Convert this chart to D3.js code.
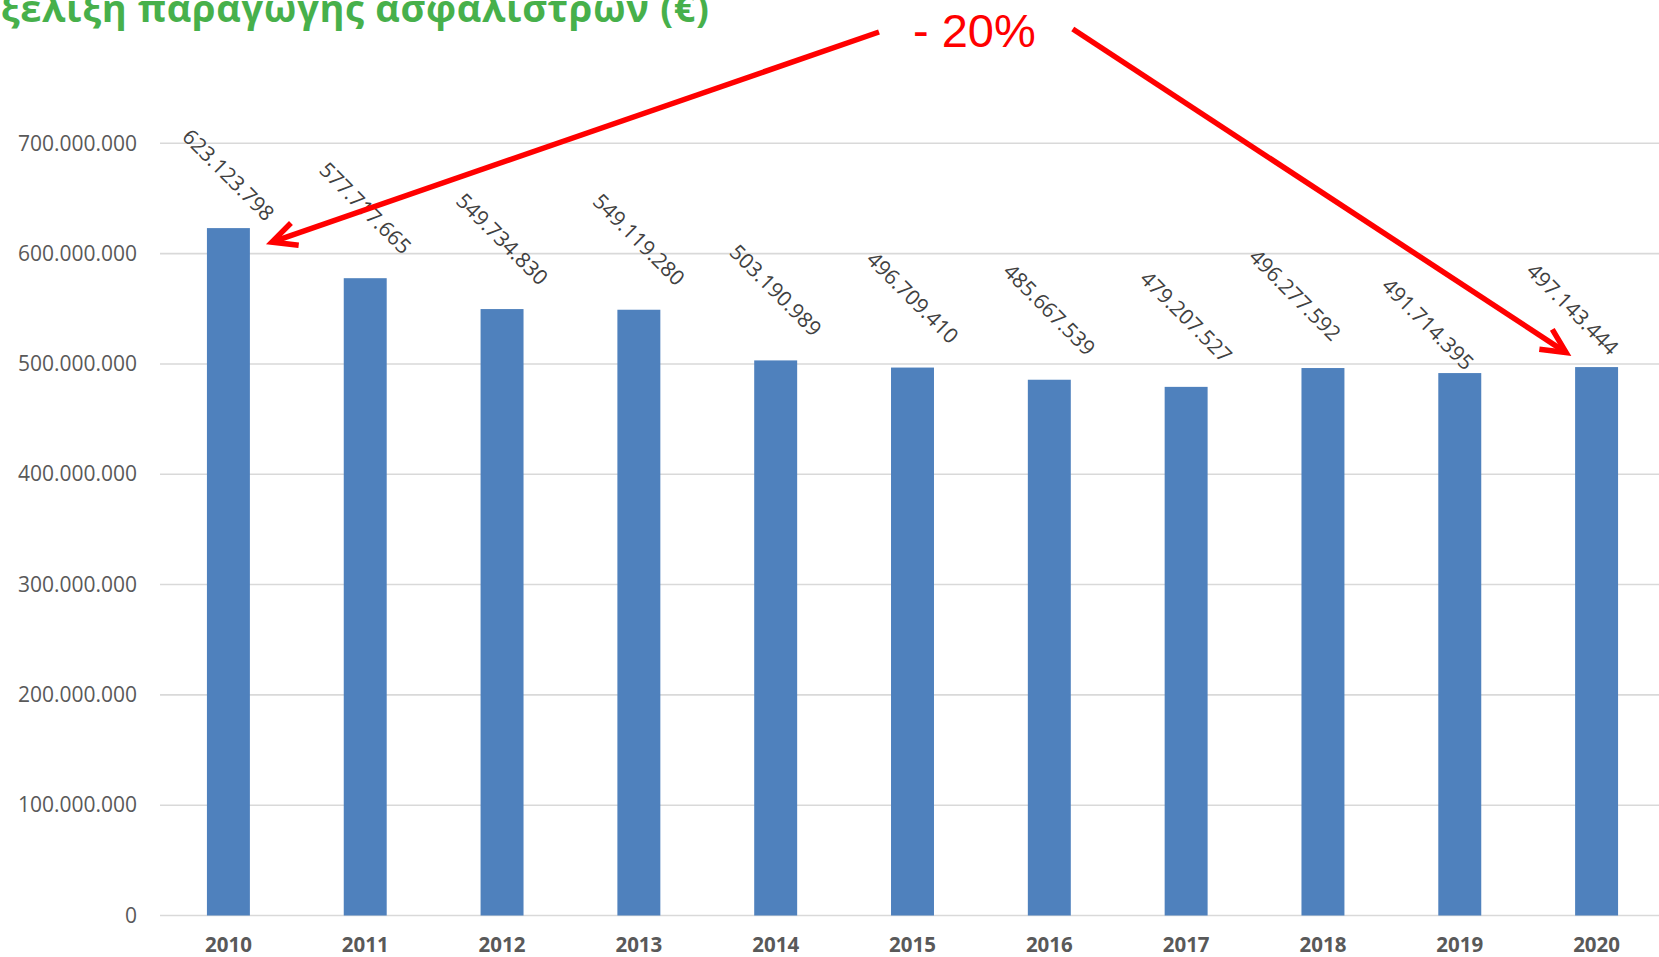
<!DOCTYPE html>
<html>
	<head>
		<meta charset="utf-8">
		<title>Εξελιξη παραγωγης ασφαλιστρων</title>
		<script src="https://d3js.org/d3.v7.min.js"></script>
		<style>
			body { margin: 0; background: #fff; }
			svg { display: block; }
			.tick-label { font-family: "Open Sans", sans-serif; fill: #595959; }
		</style>
	</head>
	<body>
		<div id="chart"></div>
		<script type="text/javascript">
		// Data
		var years = ["2010", "2011", "2012", "2013", "2014", "2015", "2016", "2017", "2018", "2019", "2020"];
		var premiums = [623123798, 577717665, 549734830, 549119280, 503190989, 496709410, 485667539, 479207527, 496277592, 491714395, 497143444];
		var yTicks = [0, 100000000, 200000000, 300000000, 400000000, 500000000, 600000000, 700000000];
		var titleHidden = "Ε";
		var titleVisible = "ξελιξη παραγωγης ασφαλιστρων (€)";
		var changeText = "- 20%";

		// Sizes
		const width = 1659, height = 957;
		const plotLeft = 160, plotRight = 1665;
		const plotTop = 143.3, plotBottom = 915.5;

		// hand-moved value labels (pixels), as on the original slide
		var labelNudge = {"2018": [-28, -3], "2019": [-32, 21], "2020": [-24, 12]};

		var fmt = d3.formatLocale({decimal: ",", thousands: ".", grouping: [3], currency: ["", "€"]}).format(",d");

		var svg = d3.select("#chart").append("svg")
			.attr("width", width)
			.attr("height", height);

		var x = d3.scaleBand()
			.domain(years)
			.range([plotLeft, plotRight])
			.paddingInner(0.686)
			.paddingOuter(0.343);

		var y = d3.scaleLinear()
			.domain([0, 700000000])
			.range([plotBottom, plotTop]);

		// Gridlines
		svg.append("g")
			.selectAll("line")
			.data(yTicks)
			.join("line")
				.attr("x1", plotLeft)
				.attr("x2", width)
				.attr("y1", d => y(d))
				.attr("y2", d => y(d))
				.attr("stroke", "#d9d9d9")
				.attr("stroke-width", 1.6);

		// Y axis (labels only)
		var yAxis = svg.append("g")
			.attr("transform", "translate(" + plotLeft + ",0)")
			.call(d3.axisLeft(y).tickValues(yTicks).tickFormat(fmt).tickSize(0).tickPadding(23));
		yAxis.select(".domain").remove();
		yAxis.selectAll("text")
			.attr("class", "tick-label")
			.style("font-size", "21px");

		// X axis (labels only)
		var xAxis = svg.append("g")
			.attr("transform", "translate(0," + plotBottom + ")")
			.call(d3.axisBottom(x).tickSize(0).tickPadding(22));
		xAxis.select(".domain").remove();
		xAxis.selectAll("text")
			.attr("class", "tick-label")
			.style("font-size", "20.5px")
			.style("font-weight", "bold");

		// Bars
		svg.append("g")
			.selectAll("rect")
			.data(premiums)
			.join("rect")
				.attr("x", (d, i) => x(years[i]))
				.attr("y", d => y(d))
				.attr("width", x.bandwidth())
				.attr("height", d => y(0) - y(d))
				.attr("fill", "#4f81bd");

		// Rotated value labels
		const labelMinY = 175;
		svg.append("g")
			.selectAll("text")
			.data(premiums)
			.join("text")
				.attr("transform", function(d, i) {
					var nudge = labelNudge[years[i]] || [0, 0];
					var cx = x(years[i]) + x.bandwidth() / 2 + nudge[0];
					var cy = Math.max(y(d) - 70, labelMinY) + nudge[1];
					return "translate(" + cx + "," + cy + ") rotate(45)";
				})
				.attr("text-anchor", "middle")
				.attr("dy", "0.35em")
				.style("font-family", "'Open Sans', sans-serif")
				.style("font-size", "21px")
				.attr("fill", "#404040")
				.text(d => fmt(d));

		// Title (cut at the top-left like the original slide)
		const titleRight = 709, titleSize = 38;
		var title = svg.append("text")
			.attr("y", 22)
			.attr("text-anchor", "end")
			.style("font-family", "'Open Sans', sans-serif")
			.style("font-size", titleSize + "px")
			.style("font-weight", "bold")
			.attr("fill", "#47b04b");
		var tVis = title.append("tspan").text(titleVisible);
		var visW = tVis.node().getComputedTextLength();
		var spacing = (titleRight - visW) / titleVisible.length;
		title.text(null);
		title.style("letter-spacing", spacing + "px")
			.attr("x", titleRight + spacing)
			.text(titleHidden + titleVisible);

		// Annotation: - 20% with two arrows
		const noteX = 913, noteY = 47;
		var note = svg.append("text")
			.attr("x", noteX)
			.attr("y", noteY)
			.style("font-family", "'Liberation Sans', Arial, sans-serif")
			.style("font-size", "47px")
			.attr("fill", "#ff0000")
			.text(changeText);
		var noteW = note.node().getComputedTextLength();

		var first = premiums[0], last = premiums[premiums.length - 1];
		var arrows = [
			{from: [noteX - 34, 32], to: [x(years[0]) + x.bandwidth() + 22, y(first) + 14]},
			{from: [noteX + noteW + 37, 29], to: [x(years[years.length - 1]) - 9, y(last) - 14.5]}
		];

		function arrowHead(a) {
			var dx = a.from[0] - a.to[0], dy = a.from[1] - a.to[1];
			var len = Math.sqrt(dx * dx + dy * dy);
			var ux = dx / len, uy = dy / len;
			var ang = 26 * Math.PI / 180, hl = 27;
			function rot(t) {
				return [a.to[0] + hl * (ux * Math.cos(t) - uy * Math.sin(t)),
						a.to[1] + hl * (ux * Math.sin(t) + uy * Math.cos(t))];
			}
			return [rot(ang), a.to, rot(-ang)];
		}

		var arrowG = svg.append("g")
			.attr("fill", "none")
			.attr("stroke", "#ff0000")
			.attr("stroke-width", 5.5);
		arrowG.selectAll("line")
			.data(arrows)
			.join("line")
				.attr("x1", d => d.from[0])
				.attr("y1", d => d.from[1])
				.attr("x2", d => d.to[0])
				.attr("y2", d => d.to[1]);
		arrowG.selectAll("path")
			.data(arrows)
			.join("path")
				.attr("stroke-linejoin", "miter")
				.attr("d", d => d3.line()(arrowHead(d)));
		</script>
	</body>
</html>
